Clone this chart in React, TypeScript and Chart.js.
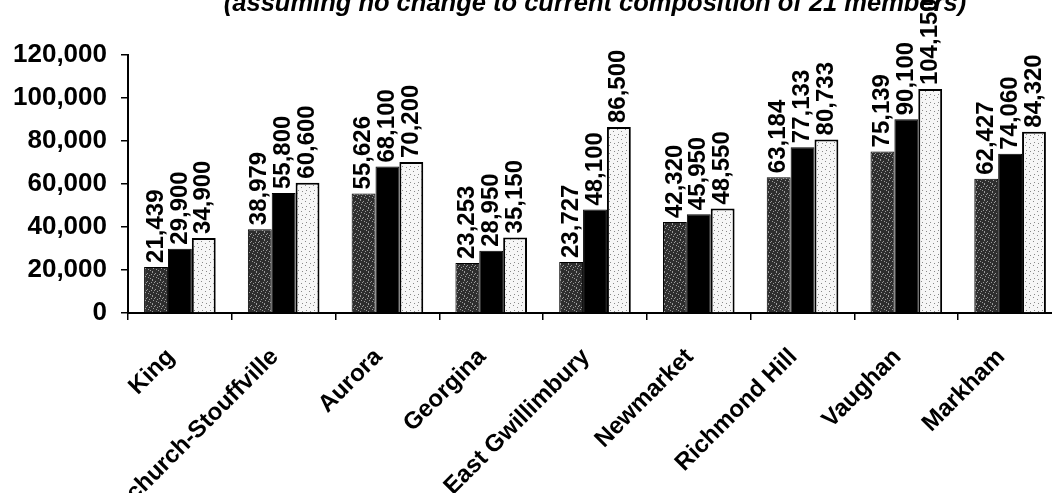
import React, { useEffect, useRef } from "react";
import { Chart, registerables } from "chart.js";

Chart.register(...registerables);

const titleText = "(assuming no change to current composition of 21 members)";
const categories = [
  "King",
  "Whitchurch-Stouffville",
  "Aurora",
  "Georgina",
  "East Gwillimbury",
  "Newmarket",
  "Richmond Hill",
  "Vaughan",
  "Markham",
];
const seriesNames = ["Series 1", "Series 2", "Series 3"];
const seriesDark = [21439, 38979, 55626, 23253, 23727, 42320, 63184, 75139, 62427];
const seriesBlack = [29900, 55800, 68100, 28950, 48100, 45950, 77133, 90100, 74060];
const seriesLight = [34900, 60600, 70200, 35150, 86500, 48550, 80733, 104150, 84320];
const yMin = 0;
const yMax = 120000;
const yStep = 20000;

const FONT = '"Liberation Sans", Arial, sans-serif';

function fmt(v: number): string {
  return v.toString().replace(/\B(?=(\d{3})+(?!\d))/g, ",");
}

function makePattern(base: string, dot: string, dots: number[][], size: number) {
  const c = document.createElement("canvas");
  c.width = size;
  c.height = size;
  const g = c.getContext("2d")!;
  g.fillStyle = base;
  g.fillRect(0, 0, size, size);
  g.fillStyle = dot;
  dots.forEach(([x, y]) => g.fillRect(x, y, 1, 1));
  return g.createPattern(c, "repeat")!;
}

const valueLabels = {
  id: "valueLabels",
  afterDatasetsDraw(chart: any) {
    const ctx = chart.ctx;
    ctx.save();
    ctx.fillStyle = "#000";
    ctx.font = `bold 24px ${FONT}`;
    ctx.textAlign = "left";
    ctx.textBaseline = "middle";
    chart.data.datasets.forEach((ds: any, di: number) => {
      const meta = chart.getDatasetMeta(di);
      meta.data.forEach((el: any, i: number) => {
        const v = ds.data[i];
        ctx.save();
        ctx.translate(el.x, el.y - 4);
        ctx.rotate(-Math.PI / 2);
        ctx.fillText(fmt(v), 0, 0);
        ctx.restore();
      });
    });
    ctx.restore();
  },
};

export default function App() {
  const ref = useRef<HTMLCanvasElement | null>(null);

  useEffect(() => {
    const canvas = ref.current!;
    const darkPat = makePattern(
      "#2e2e2e",
      "#9a9a9a",
      [[0, 0], [3, 1], [5, 3], [1, 4], [4, 5], [2, 2], [6, 6], [0, 7], [7, 2]],
      8
    );
    const lightPat = makePattern(
      "#f6f6f6",
      "#8a8a8a",
      [[1, 1], [5, 3], [2, 6], [6, 7]],
      8
    );
    const chart = new Chart(canvas, {
      type: "bar",
      data: {
        labels: categories,
        datasets: [
          {
            label: seriesNames[0],
            data: seriesDark,
            backgroundColor: darkPat as any,
            borderColor: "#000",
            borderWidth: 1,
          },
          {
            label: seriesNames[1],
            data: seriesBlack,
            backgroundColor: "#000",
            borderColor: "#000",
            borderWidth: 1,
          },
          {
            label: seriesNames[2],
            data: seriesLight,
            backgroundColor: lightPat as any,
            borderColor: "#000",
            borderWidth: 2,
          },
        ],
      },
      options: {
        responsive: false,
        animation: false,
        devicePixelRatio: 1,
        layout: { padding: { left: 0, right: 20, top: 0, bottom: 0 } },
        datasets: { bar: { barPercentage: 1, categoryPercentage: 0.69 } },
        plugins: {
          legend: { display: false },
          tooltip: { enabled: false },
          title: {
            display: true,
            text: titleText,
            color: "#000",
            fullSize: false,
            font: { family: FONT, size: 25.5, weight: "bold", style: "italic", lineHeight: 1.2 },
            padding: { top: -11.3, bottom: 35.7 },
          },
        },
        scales: {
          x: {
            grid: {
              display: true,
              drawOnChartArea: false,
              drawTicks: true,
              tickLength: 7,
              color: "#000",
              lineWidth: 1.5,
              offset: true,
            },
            border: { display: true, color: "#000", width: 2 },
            ticks: {
              autoSkip: false,
              minRotation: 45,
              maxRotation: 45,
              padding: 23,
              labelOffset: -9,
              color: "#000",
              font: { family: FONT, size: 24, weight: "bold" },
            },
            afterFit: (s: any) => {
              s.height = 180;
            },
          },
          y: {
            min: yMin,
            max: yMax,
            grid: {
              display: true,
              drawOnChartArea: false,
              drawTicks: true,
              tickLength: 7,
              color: "#000",
              lineWidth: 1.5,
            },
            border: { display: true, color: "#000", width: 2 },
            ticks: {
              stepSize: yStep,
              padding: 14,
              color: "#000",
              font: { family: FONT, size: 26, weight: "bold" },
              callback: (v: any) => fmt(Number(v)),
            },
            afterFit: (s: any) => {
              s.width = 128;
            },
          },
        },
      } as any,
      plugins: [valueLabels],
    });
    return () => chart.destroy();
  }, []);

  return (
    <div
      style={{
        position: "absolute",
        left: 0,
        top: 0,
        width: 1052,
        height: 493,
        overflow: "hidden",
        background: "#fff",
      }}
    >
      <canvas ref={ref} width={1082} height={493} style={{ width: 1082, height: 493, display: "block" }} />
    </div>
  );
}
